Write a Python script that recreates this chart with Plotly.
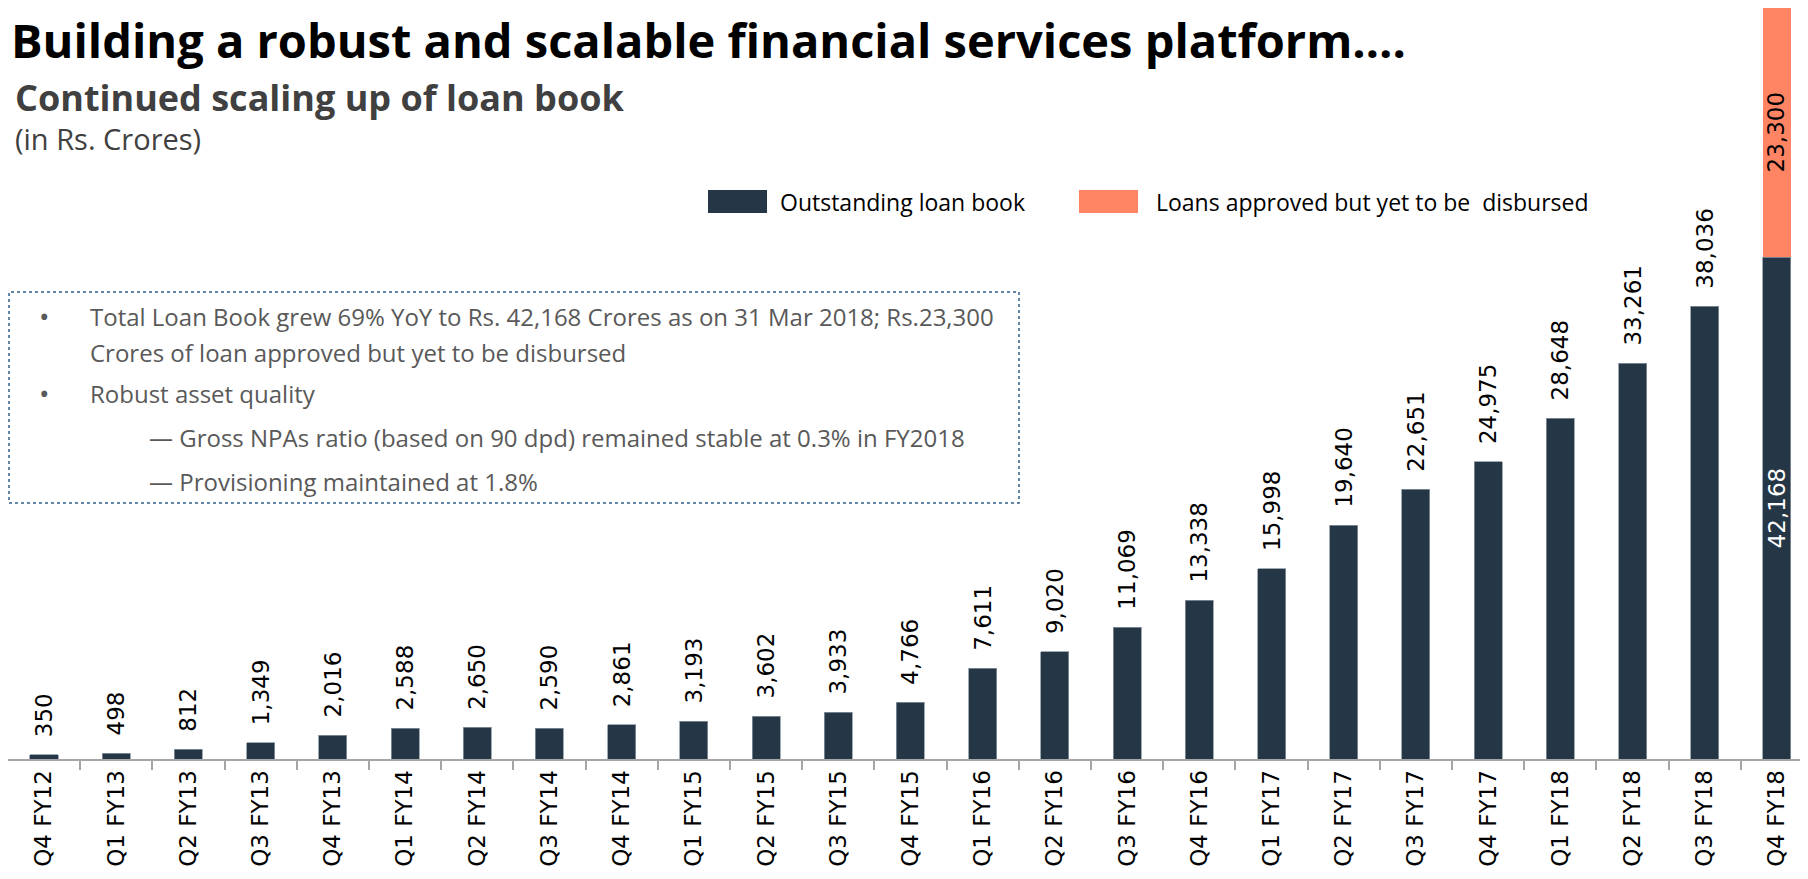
import plotly.graph_objects as go

# Podaci s grafikona (Rs. Crores)
quarters = [
    "Q4 FY12", "Q1 FY13", "Q2 FY13", "Q3 FY13", "Q4 FY13",
    "Q1 FY14", "Q2 FY14", "Q3 FY14", "Q4 FY14",
    "Q1 FY15", "Q2 FY15", "Q3 FY15", "Q4 FY15",
    "Q1 FY16", "Q2 FY16", "Q3 FY16", "Q4 FY16",
    "Q1 FY17", "Q2 FY17", "Q3 FY17", "Q4 FY17",
    "Q1 FY18", "Q2 FY18", "Q3 FY18", "Q4 FY18",
]
outstanding = [
    350, 498, 812, 1349, 2016,
    2588, 2650, 2590, 2861,
    3193, 3602, 3933, 4766,
    7611, 9020, 11069, 13338,
    15998, 19640, 22651, 24975,
    28648, 33261, 38036, 42168,
]
approved_not_disbursed = [None] * 24 + [23300]

DARK = "#253646"
ORANGE = "#fe8464"
FONT = "Open Sans"
# stranica ima 8px margine (body), pa je figura 1800x871
W, H = 1800, 871
PLOT_TOP, PLOT_BOTTOM = 8, 759  # u koordinatama stranice


def px_x(x):
    return (x - 8) / W


def px_y(y):
    return (PLOT_BOTTOM - y) / (PLOT_BOTTOM - PLOT_TOP)


n = len(quarters)
pos = ["outside"] * (n - 1) + ["inside"]
col = ["black"] * (n - 1) + ["white"]
labels = ["\u00a0\u00a0" + f"{v:,}" for v in outstanding[:-1]] + [f"{outstanding[-1]:,}"]

fig = go.Figure()
fig.add_trace(go.Bar(
    x=quarters, y=outstanding, name="Outstanding loan book",
    marker=dict(color=DARK, line=dict(color="#8a96a0", width=0.8)),
    text=labels,
    textposition=pos, textangle=-90, insidetextanchor="middle",
    textfont=dict(family="DejaVu Sans", size=23, color=col),
    constraintext="none", cliponaxis=False, showlegend=False,
))
fig.add_trace(go.Bar(
    x=quarters, y=approved_not_disbursed, name="Loans approved but yet to be  disbursed",
    marker=dict(color=ORANGE, line=dict(width=0)),
    showlegend=False,
))
# oznaka za narančasti dio (unutar stupca)
for q, base, v in zip(quarters, outstanding, approved_not_disbursed):
    if v:
        fig.add_annotation(x=q, y=base + v / 2, text=f"{v:,}", textangle=-90,
                           showarrow=False, yshift=-14,
                           font=dict(family="DejaVu Sans", size=23, color="black"))

fig.update_layout(
    width=W, height=H, barmode="stack", bargap=0.612,
    margin=dict(l=0, r=0, t=PLOT_TOP - 8, b=H - (PLOT_BOTTOM - 8)),
    plot_bgcolor="white", paper_bgcolor="white",
    xaxis=dict(
        range=[-0.4985, 24.43],
        showline=True, linecolor="#a6a6a6", linewidth=2,
        ticks="outside", tickson="boundaries", ticklen=9, tickcolor="#a6a6a6", tickwidth=2,
        tickangle=-90,
        tickfont=dict(family="DejaVu Sans", size=23, color="black"),
        showgrid=False,
    ),
    yaxis=dict(range=[0, 63100], visible=False, showgrid=False),
)


def note(text, x, y, size, color="black", anchor="left"):
    fig.add_annotation(text=text, x=px_x(x - 3), y=px_y(y), xref="paper", yref="paper",
                       xanchor=anchor, yanchor="middle", showarrow=False,
                       font=dict(family=FONT, size=size, color=color))


# Naslovi
note("<b>Building a robust and scalable financial services platform….</b>", 12, 40, 47)
note("<b>Continued scaling up of loan book</b>", 16, 98, 36, "#404040")
note("(in Rs. Crores)", 16, 138, 29, "#404040")

# Legenda
legend_items = [(708, 767, 781, DARK, "Outstanding loan book"),
                (1079, 1138, 1157, ORANGE, "Loans approved but yet to be  disbursed")]
for x0, x1, xt, c, label in legend_items:
    fig.add_shape(type="rect", xref="paper", yref="paper",
                  x0=px_x(x0), x1=px_x(x1), y0=px_y(213), y1=px_y(190),
                  fillcolor=c, line=dict(width=0))
    note(label, xt, 202, 23)

# Okvir s komentarom
fig.add_shape(type="rect", xref="paper", yref="paper",
              x0=px_x(9), x1=px_x(1019), y0=px_y(503), y1=px_y(292),
              line=dict(color="#2f5f8a", width=1.5, dash="dot"), fillcolor="rgba(0,0,0,0)")
box_lines = [
    (True, 91, 316, "Total Loan Book grew 69% YoY to Rs. 42,168 Crores as on 31 Mar 2018; Rs.23,300"),
    (False, 91, 352, "Crores of loan approved but yet to be disbursed"),
    (True, 91, 393, "Robust asset quality"),
    (False, 150, 438, "— Gross NPAs ratio (based on 90 dpd) remained stable at 0.3% in FY2018"),
    (False, 150, 481, "— Provisioning maintained at 1.8%"),
]
for bullet, tx, ty, txt in box_lines:
    if bullet:
        note("•", 47, ty, 28, "#595959", anchor="center")
    note(txt, tx, ty, 24, "#595959")

fig.write_html("out.html")
